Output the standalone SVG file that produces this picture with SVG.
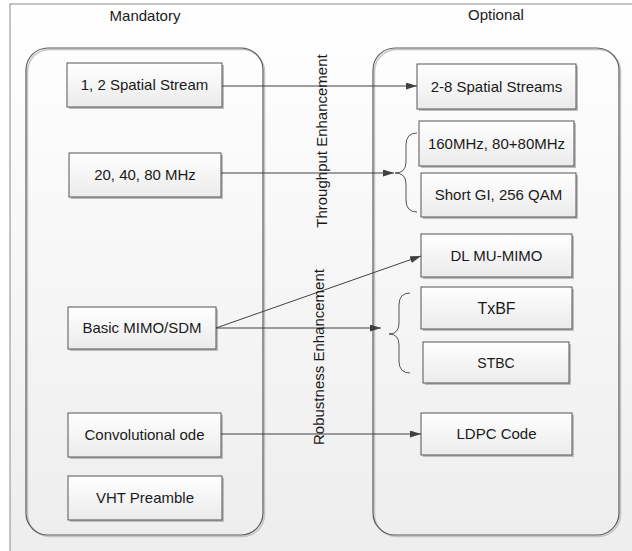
<svg xmlns="http://www.w3.org/2000/svg" width="632" height="551" viewBox="0 0 632 551">
<defs>
<linearGradient id="bg" x1="0" y1="0" x2="0" y2="1">
<stop offset="0" stop-color="#ffffff"/>
<stop offset="1" stop-color="#ededed"/>
</linearGradient>
<linearGradient id="boxg" x1="0" y1="0" x2="0" y2="1">
<stop offset="0" stop-color="#ffffff"/>
<stop offset="1" stop-color="#ebebeb"/>
</linearGradient>
<marker id="arr" markerUnits="userSpaceOnUse" markerWidth="11" markerHeight="7" refX="11" refY="3.5" orient="auto">
<path d="M0,0 L11,3.5 L0,7 z" fill="#404040"/>
</marker>
</defs>
<style>
.frame{fill:url(#bg);stroke:#8a8a8a;stroke-width:1}
.cont{fill:none;stroke:#5a5a5a;stroke-width:1.2}
.contsh{fill:none;stroke:#c4c4c4;stroke-width:1.5}
.box{fill:url(#boxg);stroke:#555555;stroke-width:1}
.sh{fill:#bdbdbd}
.lbl{font-family:"Liberation Sans",Arial,sans-serif;font-size:15px;fill:#1a1a1a;text-anchor:middle}
.conn{fill:none;stroke:#404040;stroke-width:1}
.brace{fill:none;stroke:#555555;stroke-width:1}
</style>
<rect x="0" y="0" width="632" height="551" fill="#ffffff"/>
<rect class="frame" x="10" y="4" width="640" height="560"/>
<text class="lbl" x="145" y="21">Mandatory</text>
<text class="lbl" x="496" y="20">Optional</text>
<g id="mandatory-group">
<rect class="contsh" x="27.5" y="49.5" width="237" height="487" rx="22"/>
<rect class="cont" x="26" y="48" width="237" height="487" rx="22"/>
</g>
<g id="optional-group">
<rect class="contsh" x="374.5" y="49.5" width="246" height="487" rx="22"/>
<rect class="cont" x="373" y="48" width="246" height="487" rx="22"/>
</g>
<g id="n-spatial12">
<rect class="sh" x="69" y="65" width="155" height="44"/>
<rect class="box" x="67" y="63" width="155" height="44"/>
<text class="lbl" x="144.5" y="90">1, 2 Spatial Stream</text>
</g>
<g id="n-mhz">
<rect class="sh" x="71" y="155" width="152" height="44"/>
<rect class="box" x="69" y="153" width="152" height="44"/>
<text class="lbl" x="145" y="180">20, 40, 80 MHz</text>
</g>
<g id="n-basicmimo">
<rect class="sh" x="70" y="309" width="148" height="42"/>
<rect class="box" x="68" y="307" width="148" height="42"/>
<text class="lbl" x="142" y="333">Basic MIMO/SDM</text>
</g>
<g id="n-conv">
<rect class="sh" x="70" y="415" width="153" height="44"/>
<rect class="box" x="68" y="413" width="153" height="44"/>
<text class="lbl" x="144.5" y="440">Convolutional ode</text>
</g>
<g id="n-vht">
<rect class="sh" x="70" y="478" width="154" height="44"/>
<rect class="box" x="68" y="476" width="154" height="44"/>
<text class="lbl" x="145" y="503">VHT Preamble</text>
</g>
<g id="n-spatial28">
<rect class="sh" x="419" y="66" width="159" height="45"/>
<rect class="box" x="417" y="64" width="159" height="45"/>
<text class="lbl" x="496.5" y="92">2-8 Spatial Streams</text>
</g>
<g id="n-160">
<rect class="sh" x="421" y="123" width="155" height="45"/>
<rect class="box" x="419" y="121" width="155" height="45"/>
<text class="lbl" x="496.5" y="149">160MHz, 80+80MHz</text>
</g>
<g id="n-shortgi">
<rect class="sh" x="423" y="175" width="155" height="44"/>
<rect class="box" x="421" y="173" width="155" height="44"/>
<text class="lbl" x="498.5" y="200">Short GI, 256 QAM</text>
</g>
<g id="n-dlmu">
<rect class="sh" x="423" y="236" width="151" height="43"/>
<rect class="box" x="421" y="234" width="151" height="43"/>
<text class="lbl" x="496.5" y="261">DL MU-MIMO</text>
</g>
<g id="n-txbf">
<rect class="sh" x="423" y="289" width="151" height="42"/>
<rect class="box" x="421" y="287" width="151" height="42"/>
<text class="lbl" x="496.5" y="314" style="font-size:16px">TxBF</text>
</g>
<g id="n-stbc">
<rect class="sh" x="425" y="344" width="146" height="41"/>
<rect class="box" x="423" y="342" width="146" height="41"/>
<text class="lbl" x="496" y="368" style="font-size:14px">STBC</text>
</g>
<g id="n-ldpc">
<rect class="sh" x="423" y="415" width="151" height="42"/>
<rect class="box" x="421" y="413" width="151" height="42"/>
<text class="lbl" x="496.5" y="439">LDPC Code</text>
</g>
<g id="braces">
<path class="brace" d="M417,133 Q406,133 406,145 L406,162 Q406,173 395,173 Q406,173 406,184 L406,200 Q406,212 417,212"/>
<path class="brace" d="M410,293 Q399,293 399,305 L399,323 Q399,334 389,334 Q399,334 399,345 L399,361 Q399,373 410,373"/>
</g>
<g id="connectors">
<path class="conn" d="M222,86 L417,86" marker-end="url(#arr)"/>
<path class="conn" d="M221,173 L394,173" marker-end="url(#arr)"/>
<path class="conn" d="M216,328 L421,256" marker-end="url(#arr)"/>
<path class="conn" d="M216,328 L381,328" marker-end="url(#arr)"/>
<path class="conn" d="M221,434 L421,434" marker-end="url(#arr)"/>
</g>
<text class="lbl" x="327" y="141" transform="rotate(-90 327 141)">Throughput Enhancement</text>
<text class="lbl" x="324" y="357" transform="rotate(-90 324 357)">Robustness Enhancement</text>
</svg>
